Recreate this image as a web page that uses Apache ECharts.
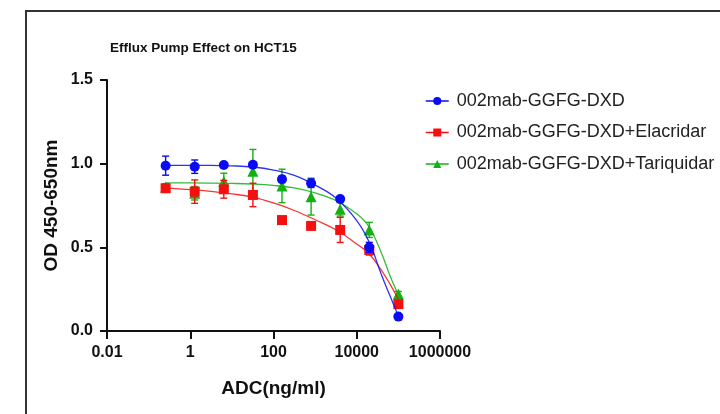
<!DOCTYPE html>
<html>
<head>
<meta charset="utf-8">
<script src="https://cdn.jsdelivr.net/npm/echarts@6/dist/echarts.min.js"></script>
<style>
html,body{margin:0;padding:0;background:#fff;}
#chart{width:720px;height:414px;}
</style>
</head>
<body>
<div id="chart"></div>
<script>
// ---- data ----
const titleText = 'Efflux Pump Effect on HCT15';
const seriesNames = ['002mab-GGFG-DXD', '002mab-GGFG-DXD+Elacridar', '002mab-GGFG-DXD+Tariquidar'];
const concentrations = [0.256, 1.28, 6.4, 32, 160, 800, 4000, 20000, 100000];
const blueMean  = [0.988, 0.982, 0.992, 0.994, 0.907, 0.883, 0.789, 0.500, 0.086];
const blueErr   = [0.057, 0.040, 0.012, 0.015, 0.020, 0.025, 0.015, 0.030, 0.010];
const redMean   = [0.853, 0.833, 0.847, 0.813, 0.663, 0.628, 0.604, 0.484, 0.161];
const redErr    = [0.020, 0.070, 0.053, 0.070, 0.020, 0.020, 0.075, 0.030, 0.015];
const greenMean = [0.860, 0.823, 0.893, 0.955, 0.867, 0.803, 0.727, 0.604, 0.221];
const greenErr  = [0.020, 0.040, 0.050, 0.130, 0.100, 0.110, 0.040, 0.045, 0.015];
// fitted curves
const curveConc  = [0.256, 1, 3.16, 10, 31.6, 100, 316, 1000, 3162, 10000, 20000, 40000, 63000, 100000];
const blueCurve  = [0.990, 0.990, 0.990, 0.987, 0.980, 0.962, 0.930, 0.872, 0.795, 0.660, 0.530, 0.330, 0.210, 0.090];
const redCurve   = [0.855, 0.845, 0.835, 0.820, 0.800, 0.765, 0.720, 0.665, 0.605, 0.520, 0.460, 0.360, 0.280, 0.190];
const greenCurve = [0.885, 0.885, 0.884, 0.882, 0.878, 0.870, 0.855, 0.825, 0.780, 0.700, 0.620, 0.460, 0.330, 0.215];
const xTickExponents = [-2, 0, 2, 4, 6];
const xTickLabels = ['0.01', '1', '100', '10000', '1000000'];
const yTicks = [0, 0.5, 1.0, 1.5];
const xAxisName = 'ADC(ng/ml)';
const yAxisName = 'OD 450-650nm';

const colors = ['#0a0af5', '#f51010', '#12b012'];
const symbols = ['circle', 'rect', 'triangle'];
const means = [blueMean, redMean, greenMean];
const errs = [blueErr, redErr, greenErr];
const curves = [blueCurve, redCurve, greenCurve];
const zBase = [30, 20, 10];

const FONT = '"Liberation Sans", Arial, Helvetica, sans-serif';

const series = [];
for (let i = 0; i < 3; i++) {
  const lx = concentrations.map(c => Math.log10(c));
  // error bars
  series.push({
    type: 'custom',
    silent: true,
    z: zBase[i],
    data: lx.map((x, k) => [x, means[i][k] - errs[i][k], means[i][k] + errs[i][k]]),
    encode: { x: 0, y: [1, 2] },
    renderItem: function (params, api) {
      const x = api.value(0);
      const top = api.coord([x, api.value(2)]);
      const bot = api.coord([x, api.value(1)]);
      const cw = 3.5;
      const st = { stroke: colors[i], lineWidth: 1.4 };
      return {
        type: 'group',
        children: [
          { type: 'line', shape: { x1: top[0], y1: top[1], x2: bot[0], y2: bot[1] }, style: st },
          { type: 'line', shape: { x1: top[0] - cw, y1: top[1], x2: top[0] + cw, y2: top[1] }, style: st },
          { type: 'line', shape: { x1: bot[0] - cw, y1: bot[1], x2: bot[0] + cw, y2: bot[1] }, style: st }
        ]
      };
    }
  });
  // fitted curve
  series.push({
    type: 'line',
    silent: true,
    z: zBase[i] + 1,
    data: curveConc.map((c, k) => [Math.log10(c), curves[i][k]]),
    smooth: 0.4,
    showSymbol: false,
    lineStyle: { color: colors[i], width: 1.3, opacity: 0.85 },
    itemStyle: { color: colors[i] }
  });
  // points
  series.push({
    name: seriesNames[i],
    type: 'line',
    z: zBase[i] + 2,
    data: lx.map((x, k) => [x, means[i][k]]),
    symbol: symbols[i],
    symbolSize: i === 2 ? 11 : 10,
    showSymbol: true,
    lineStyle: { color: colors[i], width: 1.5, opacity: 0 },
    itemStyle: { color: colors[i], borderWidth: 0 },
    emphasis: { disabled: true }
  });
}

const chart = echarts.init(document.getElementById('chart'), null, { renderer: 'canvas' });
chart.setOption({
  animation: false,
  backgroundColor: '#ffffff',
  title: {
    text: titleText,
    left: 105,
    top: 36,
    textStyle: { fontFamily: FONT, fontSize: 13.5, fontWeight: 'bold', color: '#111' }
  },
  legend: {
    orient: 'vertical',
    left: 420,
    top: 87,
    itemWidth: 23,
    itemHeight: 10,
    itemGap: 13.5,
    selectedMode: false,
    data: seriesNames.map((n, i) => ({ name: n, lineStyle: { color: colors[i], width: 1.5, opacity: 1 } })),
    textStyle: { fontFamily: FONT, fontSize: 18, color: '#222', padding: [0, 0, 0, 3] }
  },
  graphic: [
    { type: 'rect', silent: true, z: 100, shape: { x: 26, y: 11, width: 720, height: 420 },
      style: { fill: 'none', stroke: '#333', lineWidth: 2 } }
  ],
  grid: { left: 107, right: 280, top: 80, bottom: 83, containLabel: false, outerBoundsMode: 'none' },
  xAxis: {
    type: 'value',
    min: -2, max: 6, interval: 2,
    name: xAxisName,
    nameLocation: 'middle',
    nameGap: 48,
    nameTextStyle: { fontFamily: FONT, fontSize: 19, fontWeight: 'bold', color: '#111' },
    axisLine: { show: true, onZero: false, lineStyle: { color: '#111', width: 2 } },
    axisTick: { show: true, length: 8, lineStyle: { color: '#111', width: 2 } },
    splitLine: { show: false },
    axisLabel: {
      margin: 14,
      fontFamily: FONT, fontSize: 16, fontWeight: 'bold', color: '#111',
      formatter: function (v) {
        const idx = xTickExponents.indexOf(Math.round(v));
        return idx >= 0 ? xTickLabels[idx] : '';
      }
    }
  },
  yAxis: {
    type: 'value',
    min: yTicks[0], max: yTicks[yTicks.length - 1], interval: 0.5,
    name: yAxisName,
    nameLocation: 'middle',
    nameGap: 46,
    nameRotate: 90,
    nameTextStyle: { fontFamily: FONT, fontSize: 19, fontWeight: 'bold', color: '#111' },
    axisLine: { show: true, onZero: false, lineStyle: { color: '#111', width: 2 } },
    axisTick: { show: true, length: 7, lineStyle: { color: '#111', width: 2 } },
    splitLine: { show: false },
    axisLabel: {
      margin: 14,
      fontFamily: FONT, fontSize: 16, fontWeight: 'bold', color: '#111',
      formatter: v => v.toFixed(1)
    }
  },
  series: series
});
</script>
</body>
</html>
